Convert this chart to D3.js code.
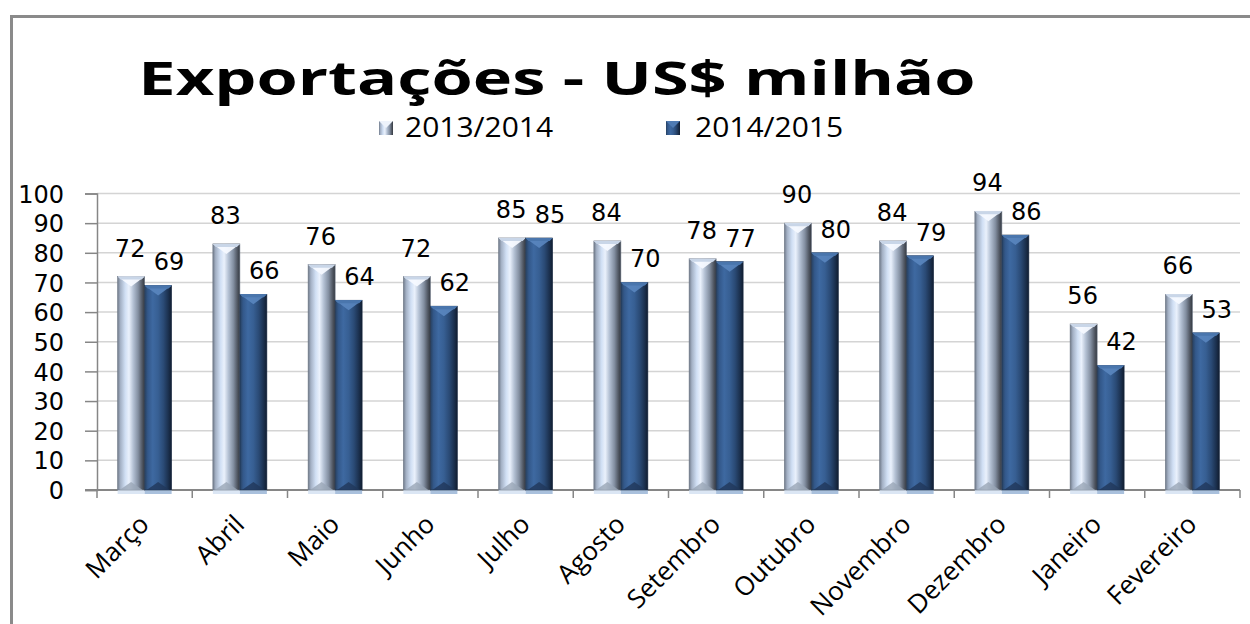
<!DOCTYPE html>
<html><head><meta charset="utf-8">
<script src="https://cdn.jsdelivr.net/npm/d3@7"></script>
<style>
html,body{margin:0;padding:0;background:#fff;}
svg{display:block;}
</style></head>
<body>
<svg id="chart" width="1250" height="624"></svg>
<script>
const categories = ["Março","Abril","Maio","Junho","Julho","Agosto","Setembro","Outubro","Novembro","Dezembro","Janeiro","Fevereiro"];
const series2013 = [72,83,76,72,85,84,78,90,84,94,56,66];
const series2014 = [69,66,64,62,85,70,77,80,79,86,42,53];
const seriesNames = ["2013/2014","2014/2015"];
const yTicks = [0,10,20,30,40,50,60,70,80,90,100];
const titleText = "Exportações - US$ milhão";

const svg = d3.select("#chart");
const defs = svg.append("defs");

function grad(id, stops){
  const g = defs.append("linearGradient").attr("id", id).attr("x1","0").attr("x2","1").attr("y1","0").attr("y2","0");
  stops.forEach(s => g.append("stop").attr("offset", s[0]).attr("stop-color", s[1]));
}
grad("gLight", [[0,"#6f7989"],[0.1,"#a3b0c4"],[0.28,"#d0dff4"],[0.42,"#eaf1fc"],[0.58,"#b3c0d3"],[0.76,"#838fa1"],[0.9,"#535a66"],[1,"#343941"]]);
grad("gDark", [[0,"#27405f"],[0.12,"#33588a"],[0.3,"#3e69a1"],[0.5,"#375f93"],[0.7,"#2a4a75"],[0.88,"#1b304e"],[1,"#111d30"]]);

// frame
svg.append("path").attr("d","M11.5,624 L11.5,16.5 L1250,16.5").attr("fill","none").attr("stroke","#8a8a8a").attr("stroke-width",3);

const x0 = 97, x1 = 1240, yBase = 490, yTop = 193.5;
const x = d3.scaleBand().domain(categories).range([x0, x1]).paddingInner(0.433).paddingOuter(0.2165);
const xs = d3.scaleBand().domain(seriesNames).range([0, x.bandwidth()]);
const y = d3.scaleLinear().domain([0,100]).range([yBase, yTop]);

// gridlines
svg.append("g").selectAll("line").data(yTicks.filter(d=>d>0)).join("line")
  .attr("x1", x0).attr("x2", x1).attr("y1", d=>y(d)).attr("y2", d=>y(d))
  .attr("stroke","#d4d4d4").attr("stroke-width",1.5);

// y axis
const yAxis = svg.append("g").attr("transform",`translate(${x0},0)`)
  .call(d3.axisLeft(y).tickValues(yTicks).tickSize(12).tickPadding(21));
yAxis.select(".domain").attr("stroke","#868686").attr("stroke-width",1.5);
yAxis.selectAll(".tick line").attr("stroke","#868686").attr("stroke-width",1.5);
yAxis.selectAll(".tick text").attr("font-family","DejaVu Sans").attr("font-size",24).attr("fill","#000").attr("dy","0.36em");

// x axis
svg.append("line").attr("x1",x0-12).attr("x2",x1).attr("y1",yBase).attr("y2",yBase).attr("stroke","#868686").attr("stroke-width",2);
const step = x.step();
svg.append("g").selectAll("line").data(d3.range(categories.length+1)).join("line")
  .attr("x1", i=>x0+i*step).attr("x2", i=>x0+i*step).attr("y1", yBase).attr("y2", yBase+8)
  .attr("stroke","#868686").attr("stroke-width",1.5);

// category labels
svg.append("g").selectAll("text").data(categories).join("text")
  .attr("transform", d=>`translate(${x(d)+x.bandwidth()/2+6},${yBase+36}) rotate(-45)`)
  .attr("text-anchor","end")
  .attr("font-family","Open Sans").attr("font-size",26).attr("fill","#000")
  .text(d=>d);

// bars
const rows = categories.map((c,i)=>({cat:c, vals:[series2013[i], series2014[i]]}));
const groups = svg.append("g").selectAll("g").data(rows).join("g")
  .attr("transform", d=>`translate(${x(d.cat)},0)`);

function drawBar(sel, si){
  const fill = si===0 ? "url(#gLight)" : "url(#gDark)";
  const bw = xs.bandwidth();
  const bx = xs(seriesNames[si]);
  // base shadow
  sel.append("rect").attr("x", bx).attr("y", yBase-1).attr("width", bw).attr("height", 5)
    .attr("fill", si===0 ? "#dbe6f4" : "#a9c0dc");
  sel.append("rect").attr("x", bx).attr("y", d=>y(d.vals[si])).attr("width", bw).attr("height", d=>yBase - y(d.vals[si]))
    .attr("fill", fill).attr("stroke", si===0?"#6c7584":"#1b2c45").attr("stroke-width",0.6);
  // top bevel
  sel.append("path").attr("d", d=>{
    const t = y(d.vals[si]);
    return `M${bx},${t} L${bx+bw},${t} L${bx+bw*0.5},${t+10} Z`;
  }).attr("fill", si===0 ? "#f6f9ff" : "#5a86bf").attr("opacity", si===0?0.95:0.9);
  sel.append("path").attr("d", d=>{
    const t = y(d.vals[si]);
    return `M${bx},${t} L${bx+bw},${t} L${bx+bw-3},${t+3} L${bx+3},${t+3} Z`;
  }).attr("fill", si===0 ? "#c9d6e8" : "#4a76ad");
  // bottom bevel
  sel.append("path").attr("d", ()=>`M${bx+2},${yBase} L${bx+bw-2},${yBase} L${bx+bw*0.5},${yBase-8} Z`)
    .attr("fill", si===0 ? "#9aa6b6" : "#20375a").attr("opacity",0.8);
}
drawBar(groups, 0);
drawBar(groups, 1);

// value labels
groups.append("text").attr("x", xs(seriesNames[0]) + xs.bandwidth()/2 - 1)
  .attr("y", d=>y(d.vals[0]) - 20).attr("text-anchor","middle")
  .attr("font-family","DejaVu Sans").attr("font-size",24).attr("fill","#000").text(d=>d.vals[0]);
groups.append("text").attr("x", xs(seriesNames[1]) + xs.bandwidth()/2 + 11)
  .attr("y", d=>y(d.vals[1]) - 15).attr("text-anchor","middle")
  .attr("font-family","DejaVu Sans").attr("font-size",24).attr("fill","#000").text(d=>d.vals[1]);

// title (horizontally stretched like the reference)
svg.append("text").attr("transform","translate(557,95) scale(1.45,1)").attr("text-anchor","middle")
  .attr("font-family","Open Sans").attr("font-weight","bold").attr("font-size",46).attr("fill","#000")
  .text(titleText);

// legend
const legX = [379, 666];
const leg = svg.append("g").selectAll("g").data(seriesNames).join("g")
  .attr("transform", (d,i)=>`translate(${legX[i]},121)`);
leg.append("rect").attr("width",14).attr("height",14).attr("fill",(d,i)=> i===0?"url(#gLight)":"url(#gDark)");
leg.append("path").attr("d","M0,0 L14,0 L7,7 Z").attr("fill",(d,i)=> i===0?"#eef3fb":"#4f7bb3");
leg.append("text").attr("transform",(d,i)=>`translate(${i===0?26:29},16) scale(1.11,1)`)
  .attr("font-family","Open Sans").attr("font-size",27).attr("fill","#000").text(d=>d);
</script>
</body></html>
